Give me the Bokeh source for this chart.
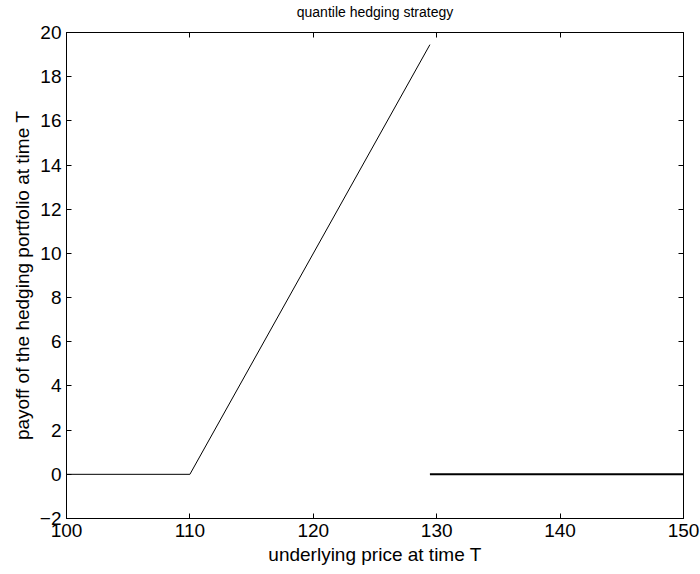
from bokeh.plotting import figure
from bokeh.models import LinearAxis, FixedTicker, Range1d
from bokeh.embed import file_html
from bokeh.resources import INLINE

# Payoff of the hedging portfolio: call spread part, then zero beyond the cut-off
ramp_price = [100, 110, 129.45]
ramp_payoff = [0, 0, 19.45]
tail_price = [129.45, 150]
tail_payoff = [0, 0]

x_ticks = [100, 110, 120, 130, 140, 150]
y_ticks = [-2, 0, 2, 4, 6, 8, 10, 12, 14, 16, 18, 20]

FONT = "Liberation Sans"

p = figure(width=700, height=574, output_backend="svg", toolbar_location=None,
           x_range=Range1d(100, 150), y_range=Range1d(-2, 20),
           min_border_left=66, min_border_right=17, min_border_top=32, min_border_bottom=56)

p.grid.visible = False
p.outline_line_color = "black"
p.outline_line_width = 1
p.background_fill_color = "white"
p.border_fill_color = "white"

p.xaxis.axis_label = "underlying price at time T"
p.yaxis.axis_label = "payoff of the hedging portfolio at time T"

for ax in p.xaxis:
    ax.ticker = FixedTicker(ticks=x_ticks)
for ax in p.yaxis:
    ax.ticker = FixedTicker(ticks=y_ticks)

for ax in list(p.xaxis) + list(p.yaxis):
    ax.major_tick_in = 5
    ax.major_tick_out = 0
    ax.minor_tick_line_color = None
    ax.axis_line_color = "black"
    ax.major_tick_line_color = "black"
    ax.major_label_text_font = FONT
    ax.major_label_text_font_size = "19px"
    ax.major_label_text_color = "black"
    ax.axis_label_text_font = FONT
    ax.axis_label_text_font_size = "19px"
    ax.axis_label_text_font_style = "normal"
    ax.axis_label_text_color = "black"
    ax.major_label_standoff = 5
    ax.axis_label_standoff = 4

# Mirror axes on top and right: inward ticks only, blank labels;
# the top one also carries the chart title
top = LinearAxis(ticker=FixedTicker(ticks=x_ticks), major_tick_in=5, major_tick_out=0,
                 minor_tick_line_color=None, major_label_standoff=0,
                 major_label_overrides={t: "" for t in x_ticks},
                 axis_label="quantile hedging strategy", axis_label_standoff=13,
                 axis_label_text_font=FONT, axis_label_text_font_size="14px",
                 axis_label_text_font_style="normal", axis_label_text_color="black")
right = LinearAxis(ticker=FixedTicker(ticks=y_ticks), major_tick_in=5, major_tick_out=0,
                   minor_tick_line_color=None, major_label_standoff=0,
                   major_label_overrides={t: "" for t in y_ticks})
p.add_layout(top, "above")
p.add_layout(right, "right")

p.line(ramp_price, ramp_payoff, line_color="black", line_width=1)
p.line(tail_price, tail_payoff, line_color="black", line_width=2)

open("out.html", "w").write(file_html(p, INLINE))
